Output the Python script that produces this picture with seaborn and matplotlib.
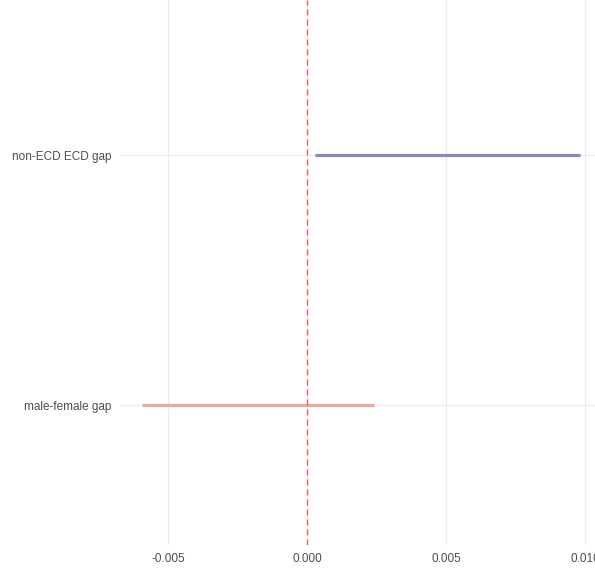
import pandas as pd
import seaborn as sns
import matplotlib.pyplot as plt

# Estimated gaps with confidence intervals
labels = ["non-ECD ECD gap", "male-female gap"]
estimate = [0.00507, -0.00176]
lower = [0.00029, -0.00594]
upper = [0.00982, 0.00241]
colors = ["#8A8ABD", "#EBA8A3"]

df = pd.DataFrame({"label": labels, "estimate": estimate, "lower": lower, "upper": upper})

sns.set_style("whitegrid", {"grid.color": "#EBEBEB", "axes.edgecolor": "white"})
plt.rcParams["font.family"] = ["Liberation Sans", "DejaVu Sans"]

fig = plt.figure(figsize=(5.95, 5.79), dpi=100)
ax = fig.add_axes([0.2017, 0.0587, 0.7983, 0.9413])

# Interval lines
ax.hlines(y=df["label"], xmin=df["lower"], xmax=df["upper"], colors=colors, linewidth=2.3, zorder=3)
# Point estimates (tiny marks, like the reference)
sns.scatterplot(data=df, x="estimate", y="label", hue="label", palette=colors,
                s=3, marker="|", legend=False, ax=ax, zorder=4)

ax.axvline(0, color="#F05A5E", linestyle=(0, (4.3, 2.9)), linewidth=1.0, zorder=5)

ax.set_xlim(-0.00673, 0.01036)
ax.set_ylim(1.56, -0.62)
ax.set_xticks([-0.005, 0.0, 0.005, 0.010])
ax.set_xticklabels(["-0.005", "0.000", "0.005", "0.010"])
ax.set_xlabel("")
ax.set_ylabel("")
ax.grid(True, color="#EBEBEB", linewidth=0.9)
for s in ax.spines.values():
    s.set_visible(False)
ax.tick_params(axis="both", length=0, labelsize=8.5, labelcolor="#4D4D4D", pad=6)

fig.savefig("out.png", dpi=100)
